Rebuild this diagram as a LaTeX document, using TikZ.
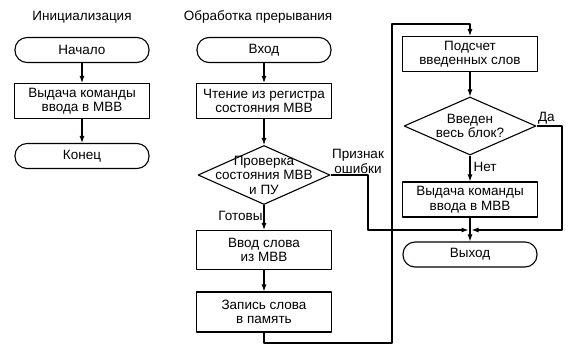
\documentclass[tikz,border=0pt]{standalone}
\usepackage{fontspec}
\setmainfont{Liberation Sans}
\usetikzlibrary{shapes.geometric,arrows.meta}
\tikzset{
  term/.style={draw, rounded corners=12pt, minimum width=134pt, minimum height=25pt, inner sep=0pt},
  blok/.style={draw, minimum width=135pt, minimum height=35pt, inner sep=0pt, align=center},
  uslovie/.style={draw, diamond, minimum width=132pt, minimum height=59pt, inner sep=0pt},
  utext/.style={align=center, inner sep=0pt},
  strelka/.style={-{Latex[length=7pt,width=5pt]}},
  metka/.style={inner sep=1pt, align=center}
}
\begin{document}
\begin{tikzpicture}[x=1pt,y=-1pt,line width=1.1pt,line join=round,
  font=\fontsize{13.5}{14.5}\selectfont]
  \useasboundingbox (0,0) rectangle (578,349);

  % Инициализация
  \node (titleA) at (82,17) {Инициализация};
  \node[term] (nach) at (82,50) {Начало};
  \node[blok] (vydA) at (82,101) {Выдача команды\\ввода в МВВ};
  \node[term] (kon) at (82,156) {Конец};

  \draw[strelka] (nach) -- (vydA);
  \draw[strelka] (vydA) -- (kon);

  % Обработка прерывания
  \node (titleB) at (258,17) {Обработка прерывания};
  \node[term] (vhod) at (264,50) {Вход};
  \node[blok] (chten) at (264,101) {Чтение из регистра\\состояния МВВ};
  \node[uslovie] (prov) at (264,175) {};
  \node[utext] at (prov) {Проверка\\состояния МВВ\\и ПУ};
  \node[blok, minimum height=39pt] (vvod) at (264,250) {Ввод слова\\из МВВ};
  \node[blok, minimum height=40pt] (zap) at (264,312) {Запись слова\\в память};

  \draw[strelka] (vhod) -- (chten);
  \draw[strelka] (chten) -- (prov);
  \draw[strelka] (prov) -- (vvod)
    node[metka, pos=0.45, left] {Готовы};
  \draw[strelka] (vvod) -- (zap);

  % правая ветвь
  \node[blok] (podsch) at (470,54) {Подсчет\\введенных слов};
  \node[uslovie, minimum height=58pt] (blk) at (470,126) {};
  \node[utext] at (blk) {Введен\\весь блок?};
  \node[blok] (vydB) at (470,199.5) {Выдача команды\\ввода в МВВ};
  \node[term] (vyh) at (470,254.5) {Выход};

  \coordinate (sliv) at (470,230);
  \coordinate (petlyaN) at (392,343);
  \coordinate (petlyaV) at (392,24);
  \coordinate (oshib) at (368,230);
  \coordinate (da) at (562,126);

  % цикл после записи слова
  \draw[strelka] (zap.south) |- (petlyaN) -- (petlyaV) -| (podsch.north);
  \draw[strelka] (podsch) -- (blk);
  \draw[strelka] (blk) -- (vydB)
    node[metka, pos=0.45, right=2pt] {Нет};
  \draw[strelka] (vydB) -- (vyh);

  % признак ошибки и выход по «Да»
  \draw[strelka, shorten >=1.5pt] (prov.east) -| (oshib) -- (sliv);
  \node[metka, above right] at (prov.east) {Признак\\ошибки};
  \draw[strelka, shorten >=1.5pt] (blk.east) -| (da) |- (sliv);
  \node[metka, above right] at (blk.east) {Да};
\end{tikzpicture}
\end{document}
